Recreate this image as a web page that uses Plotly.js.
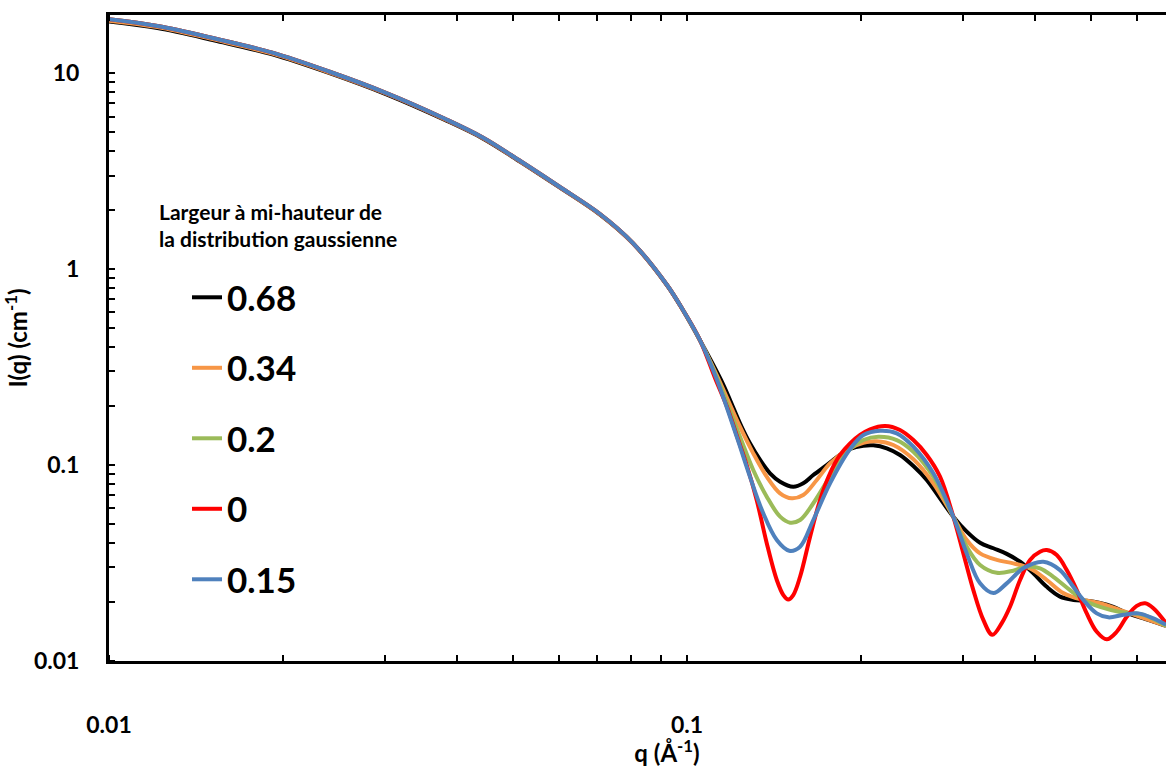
<!DOCTYPE html>
<html>
<head>
<meta charset="utf-8">
<script src="https://cdn.plot.ly/plotly-3.0.1.min.js"></script>
<style>
html, body { margin: 0; padding: 0; overflow: hidden; background: #ffffff; }
#chart { width: 1225px; height: 767px; }
</style>
</head>
<body>
<div id="chart"></div>
<script>
// ---- data (q in Å^-1, I in cm^-1) ----
// low-q part, common to all distributions
const qLow = [0.01, 0.01213, 0.01524, 0.01917, 0.02408, 0.03027, 0.03804, 0.04432, 0.05163, 0.06009, 0.07071, 0.08063, 0.09235, 0.0984, 0.1053];
const iLowBlue = [18.8, 17.37, 15.0, 12.7, 10.15, 7.88, 5.86, 4.69, 3.535, 2.636, 1.908, 1.357, 0.829, 0.618, 0.434];
const iLowOrange = [18.5, 17.15, 14.8, 12.55, 10.05, 7.82, 5.82, 4.66, 3.515, 2.625, 1.900, 1.352, 0.827, 0.617, 0.434];
const iLowBlack = [18.3, 16.95, 14.65, 12.45, 9.98, 7.76, 5.78, 4.64, 3.505, 2.615, 1.892, 1.35, 0.826, 0.616, 0.433];

// FWHM 0.68 (black)
const qBlack = [0.1145, 0.1187, 0.1235, 0.1285, 0.1338, 0.1392, 0.1449, 0.1527, 0.1589, 0.1654, 0.1745, 0.1840, 0.1915, 0.2019, 0.2101, 0.2216, 0.2336, 0.2464, 0.2599, 0.2740, 0.2889, 0.3048, 0.3214, 0.3389, 0.3574, 0.3769, 0.3974, 0.4192, 0.4420, 0.4660, 0.4916, 0.5183, 0.5465, 0.5765, 0.6079, 0.6410, 0.6743];
const iBlack = [0.2715, 0.2146, 0.1632, 0.1290, 0.1061, 0.0907, 0.0822, 0.0775, 0.0807, 0.0889, 0.1000, 0.1125, 0.1207, 0.1254, 0.1260, 0.1217, 0.1125, 0.0988, 0.0839, 0.0676, 0.0545, 0.0457, 0.0401, 0.0376, 0.0352, 0.0321, 0.0280, 0.0239, 0.0213, 0.0205, 0.0203, 0.0198, 0.0189, 0.0176, 0.0167, 0.0159, 0.0151];

// FWHM 0.34 (orange)
const qOrange = [0.1136, 0.1235, 0.1302, 0.1374, 0.1449, 0.1518, 0.1589, 0.1677, 0.1768, 0.1915, 0.2019, 0.2130, 0.2275, 0.2464, 0.2668, 0.2889, 0.3048, 0.3214, 0.3435, 0.3669, 0.3922, 0.4192, 0.4478, 0.4850, 0.5183, 0.5613, 0.6079, 0.6743];
const iOrange = [0.2715, 0.1568, 0.1147, 0.0872, 0.0717, 0.0676, 0.0703, 0.0839, 0.1020, 0.1217, 0.1299, 0.1321, 0.1265, 0.1069, 0.0807, 0.0545, 0.0414, 0.0354, 0.0328, 0.0315, 0.0297, 0.0259, 0.0222, 0.0205, 0.0197, 0.0182, 0.0168, 0.0151];

// FWHM 0.2 (green)
const qGreen = [0.1131, 0.1235, 0.1302, 0.1374, 0.1449, 0.1508, 0.1569, 0.1654, 0.1768, 0.1915, 0.2019, 0.2143, 0.2306, 0.2464, 0.2668, 0.2889, 0.3048, 0.3214, 0.3435, 0.3669, 0.3871, 0.4081, 0.4303, 0.4599, 0.4850, 0.5183, 0.5613, 0.6160, 0.6743];
const iGreen = [0.2715, 0.1394, 0.0943, 0.0689, 0.0545, 0.0508, 0.0524, 0.0638, 0.0872, 0.1207, 0.1341, 0.1394, 0.1341, 0.1169, 0.0872, 0.0545, 0.0383, 0.0309, 0.0282, 0.0289, 0.0303, 0.0297, 0.0269, 0.0230, 0.0205, 0.0189, 0.0178, 0.0172, 0.0151];

// FWHM 0 (red, monodisperse)
const qRed = [0.1118, 0.1173, 0.1220, 0.1270, 0.1320, 0.1374, 0.1430, 0.1468, 0.1497, 0.1527, 0.1569, 0.1633, 0.1699, 0.1768, 0.1840, 0.1915, 0.1993, 0.2074, 0.2201, 0.2336, 0.2464, 0.2599, 0.2740, 0.2889, 0.3007, 0.3129, 0.3256, 0.3375, 0.3504, 0.3621, 0.3769, 0.3922, 0.4081, 0.4192, 0.4362, 0.4539, 0.4724, 0.4916, 0.5116, 0.5324, 0.5540, 0.5765, 0.6000, 0.6202, 0.6410, 0.6743];
const iRed = [0.2779, 0.1977, 0.1406, 0.0988, 0.0663, 0.0399, 0.0259, 0.0217, 0.0206, 0.0217, 0.0269, 0.0431, 0.0663, 0.0907, 0.1125, 0.1290, 0.1423, 0.1521, 0.1581, 0.1509, 0.1341, 0.1125, 0.0872, 0.0545, 0.0354, 0.0230, 0.0162, 0.0136, 0.0156, 0.0189, 0.0259, 0.0328, 0.0361, 0.0368, 0.0347, 0.0291, 0.0230, 0.0175, 0.0141, 0.0129, 0.0141, 0.0168, 0.0191, 0.0197, 0.0186, 0.0156];

// FWHM 0.15 (blue)
const qBlue = [0.1127, 0.1219, 0.1285, 0.1355, 0.1430, 0.1503, 0.1569, 0.1654, 0.1768, 0.1915, 0.2019, 0.2158, 0.2306, 0.2464, 0.2668, 0.2889, 0.3048, 0.3214, 0.3389, 0.3574, 0.3818, 0.4135, 0.4420, 0.4660, 0.4850, 0.5116, 0.5358, 0.5688, 0.6038, 0.6410, 0.6743];
const iBlue = [0.2715, 0.1394, 0.0872, 0.0567, 0.0414, 0.0365, 0.0383, 0.0524, 0.0807, 0.1207, 0.1423, 0.1496, 0.1451, 0.1240, 0.0907, 0.0545, 0.0354, 0.0249, 0.0222, 0.0249, 0.0297, 0.0321, 0.0291, 0.0239, 0.0205, 0.0175, 0.0167, 0.0172, 0.0175, 0.0165, 0.0153];

const seriesNames = ['0.68', '0.34', '0.2', '0', '0.15'];
const seriesColors = ['#000000', '#F79646', '#9BBB59', '#FF0000', '#4F81BD'];
const legendTitle = 'Largeur à mi-hauteur de<br>la distribution gaussienne';

// tick positions (inside ticks, drawn as the minor tick set)
const xInsideTicks = [0.01, 0.02, 0.03, 0.04, 0.05, 0.06, 0.07, 0.08, 0.09, 0.1, 0.2, 0.3, 0.4, 0.5, 0.6, 0.7, 0.8, 0.9];
const yInsideTicks = [0.01, 0.02, 0.03, 0.04, 0.05, 0.06, 0.07, 0.08, 0.09, 0.1, 0.2, 0.3, 0.4, 0.5, 0.6, 0.7, 0.8, 0.9, 1, 2, 3, 4, 5, 6, 7, 8, 9, 10, 20];

const FONT = 'Lato, "Open Sans", "Liberation Sans", sans-serif';

const seriesX = [qLow.concat(qBlack), qLow.concat(qOrange), qLow.concat(qGreen), qLow.concat(qRed), qLow.concat(qBlue)];
const seriesY = [iLowBlack.concat(iBlack), iLowOrange.concat(iOrange), iLowBlue.concat(iGreen), iLowBlue.concat(iRed), iLowBlue.concat(iBlue)];

const traces = seriesNames.map((name, k) => ({
  type: 'scatter',
  mode: 'lines',
  name: name,
  x: seriesX[k],
  y: seriesY[k],
  legendgroup: 'g' + k,
  line: { color: seriesColors[k], width: 4, shape: 'spline', smoothing: 1 },
  hoverinfo: 'x+y+name'
}));

const tickFont = { family: FONT, size: 23, color: '#000000', weight: 700 };
const titleFont = { family: FONT, size: 24, color: '#000000', weight: 700 };

// major ticks are transparent and outside: they only set the label distance;
// the visible inside ticks are the minor tick set
const axisCommon = {
  type: 'log',
  showline: true,
  linecolor: '#000000',
  linewidth: 3,
  ticks: 'outside',
  tickwidth: 1,
  tickcolor: 'rgba(0,0,0,0)',
  dtick: 1,
  showticklabels: true,
  tickfont: tickFont,
  showgrid: false,
  zeroline: false,
  automargin: false
};

const layout = {
  width: 1225,
  height: 767,
  margin: { l: 109, r: 0, t: 15, b: 106, pad: 0 },
  paper_bgcolor: '#ffffff',
  plot_bgcolor: '#ffffff',
  font: { family: FONT, color: '#000000', size: 23, weight: 700 },
  showlegend: true,
  legend: {
    x: 0.0699, y: 0.6083, xanchor: 'left', yanchor: 'top',
    font: { family: FONT, size: 35, color: '#000000', weight: 700 },
    traceorder: 'grouped', tracegroupgap: 22,
    bgcolor: 'rgba(0,0,0,0)', borderwidth: 0
  },
  xaxis: Object.assign({}, axisCommon, {
    range: [-2, -0.0692],
    ticklen: 41,
    mirror: 'allticks',
    minor: { tickmode: 'array', tickvals: xInsideTicks, ticks: 'inside', ticklen: 6, tickwidth: 2, tickcolor: '#000000', showgrid: false },
    title: { text: 'q (Å<sup>-1</sup>)', font: titleFont, standoff: 11 }
  }),
  yaxis: Object.assign({}, axisCommon, {
    range: [-2, 1.296],
    ticklen: 22,
    mirror: false,
    minor: { tickmode: 'array', tickvals: yInsideTicks, ticks: 'inside', ticklen: 6, tickwidth: 2, tickcolor: '#000000', showgrid: false },
    title: { text: 'I(q) (cm<sup>-1</sup>)', font: titleFont, standoff: 0 }
  }),
  annotations: [{
    text: legendTitle,
    xref: 'paper', yref: 'paper',
    x: 0.043, y: 0.719, xanchor: 'left', yanchor: 'top', align: 'left',
    showarrow: false,
    font: { family: FONT, size: 21, color: '#000000', weight: 700 }
  }]
};

Plotly.newPlot('chart', traces, layout, { displayModeBar: false, responsive: false });
</script>
</body>
</html>
